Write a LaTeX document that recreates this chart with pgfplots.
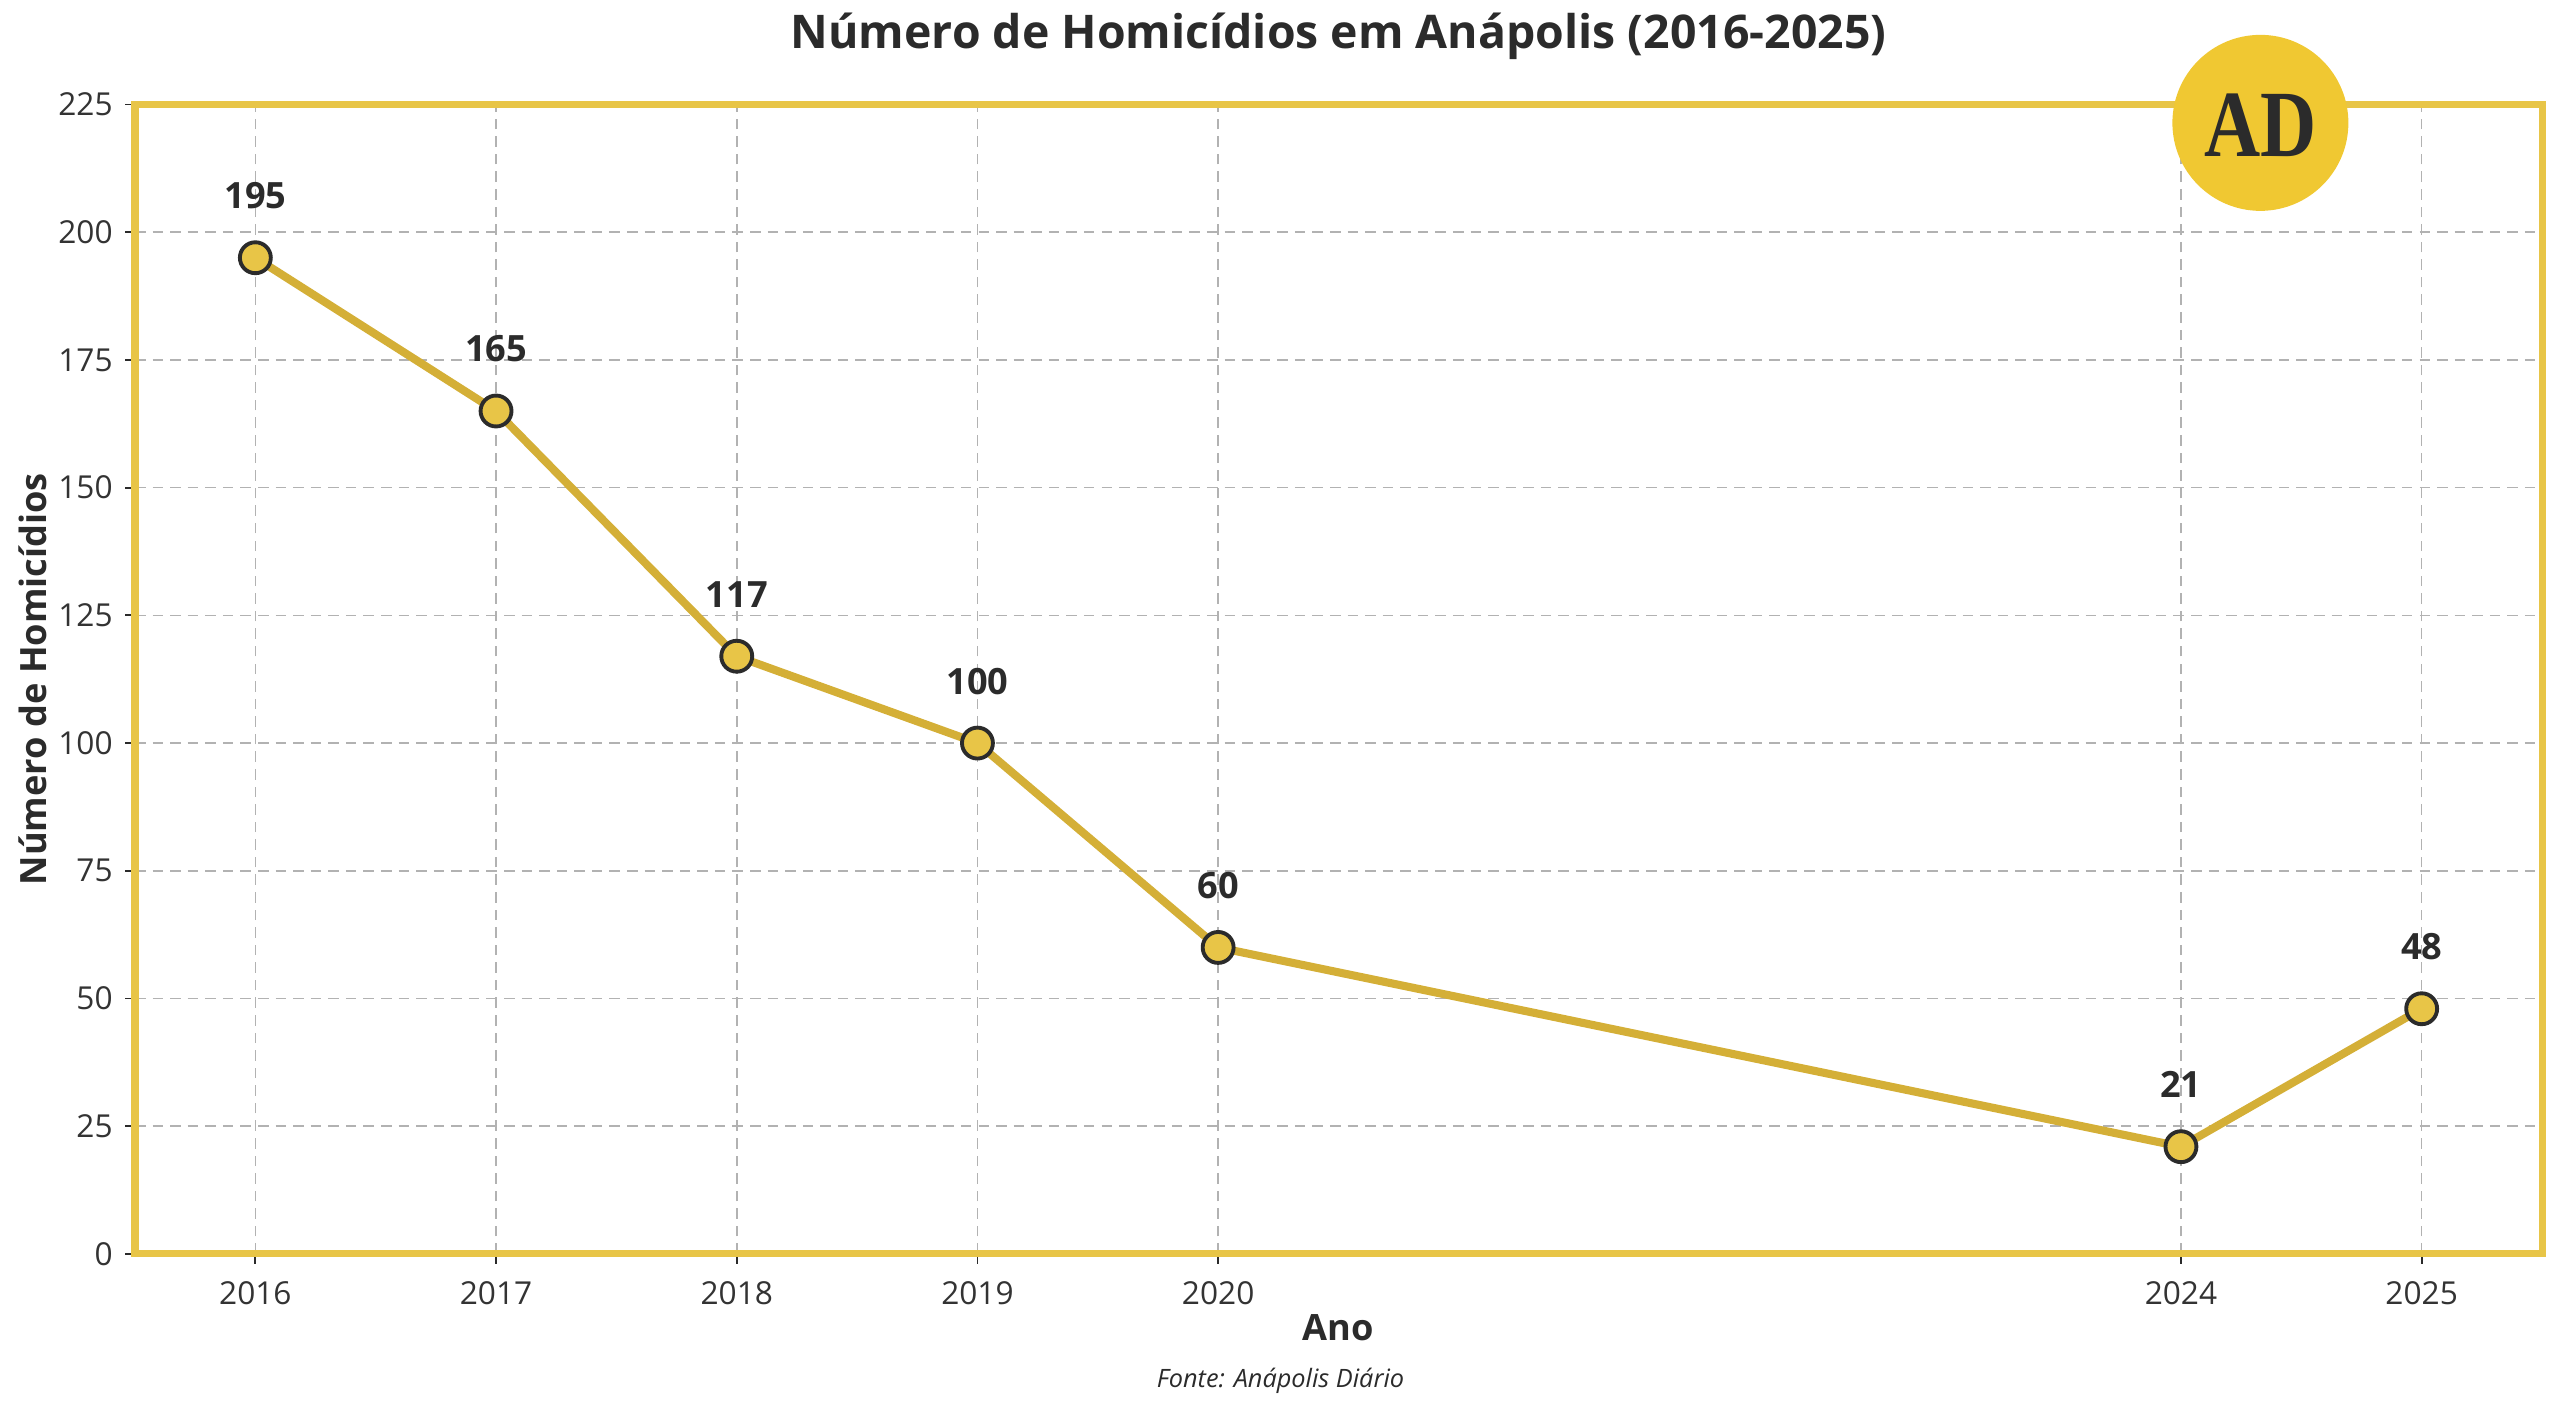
\documentclass[border=0pt]{standalone}
\usepackage{pgfplots}
\pgfplotsset{compat=1.18}
\usepackage{graphicx}
\usepackage{fontspec}
\setmainfont{Open Sans}
\newfontfamily\logofont{Liberation Serif}
\definecolor{border}{HTML}{E8C547}
\definecolor{linec}{HTML}{D4AF37}
\definecolor{markf}{HTML}{E8C547}
\definecolor{dark}{HTML}{2B2B2B}
\definecolor{txt}{HTML}{333333}
\definecolor{logoc}{HTML}{F0C832}
\begin{document}
\begin{tikzpicture}
\begin{axis}[
  scale only axis, width=24.07cm, height=11.495cm,
  xmin=2015.5, xmax=2025.5, ymin=0, ymax=225,
  xtick={2016,2017,2018,2019,2020,2024,2025},
  ytick={0,25,...,225},
  /pgf/number format/1000 sep={},
  /pgf/number format/assume math mode=true,
  tick label style={font=\fontsize{9}{10}\selectfont, text=txt},
  axis line style={border, line width=2pt},
  grid=major, grid style={dash pattern=on 3pt off 2pt, color=black!30, line width=0.45pt},
  tick style={dark, line width=0.5pt},
  tick align=outside, major tick length=0.1cm,
  xtick pos=left, ytick pos=left,
  xticklabel style={yshift=-0.05cm},
  clip=false,
  nodes near coords,
  every node near coord/.append style={font=\bfseries\fontsize{10.3}{12}\selectfont, text=dark, anchor=center, yshift=0.62cm},
]
\addplot[color=linec, line width=2.3pt, mark=*, mark size=4.4pt,
  mark options={fill=markf, draw=dark, line width=1.1pt}]
  coordinates {(2016,195) (2017,165) (2018,117) (2019,100) (2020,60) (2024,21) (2025,48)};
\coordinate (logo) at (axis cs:2024.33,221.4);
\end{axis}
\node[font=\bfseries\fontsize{13.2}{15}\selectfont, text=dark] at ([yshift=0.685cm]current axis.north) {Número de Homicídios em Anápolis (2016-2025)};
\node[font=\bfseries\fontsize{10.3}{12}\selectfont, text=dark] at ([yshift=-0.74cm]current axis.south) {Ano};
\node[font=\bfseries\fontsize{10.3}{12}\selectfont, text=dark, rotate=90] at ([xshift=-1.02cm]current axis.west) {Número de Homicídios};
\fill[logoc] (logo) circle[radius=0.88cm];
\node[text=dark, inner sep=0pt] at ([yshift=-0.02cm]logo) {\scalebox{0.82}[1]{\logofont\bfseries\fontsize{27}{27}\selectfont AD}};
\node[font=\itshape\fontsize{7.2}{9}\selectfont, text=dark] at ([xshift=-0.58cm, yshift=-1.27cm]current axis.south) {Fonte: Anápolis Diário};
\pgfresetboundingbox
\path[use as bounding box] ([xshift=-1.35cm,yshift=-1.62cm]current axis.south west) rectangle ([xshift=0.18cm,yshift=1.045cm]current axis.north east);
\end{tikzpicture}
\end{document}
